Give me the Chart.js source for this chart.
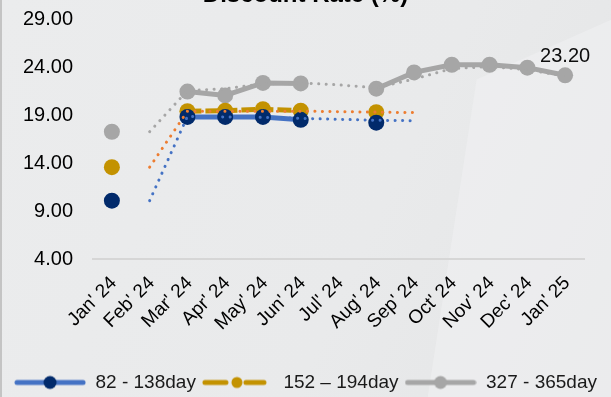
<!DOCTYPE html>
<html>
<head>
<meta charset="utf-8">
<script src="https://cdn.jsdelivr.net/npm/chart.js@4"></script>
<style>
  html, body { margin: 0; padding: 0; overflow: hidden; }
  body {
    width: 611px; height: 397px;
    background: linear-gradient(115deg, #ebeced 0%, #e9eaeb 60%, #e4e5e6 100%);
    position: relative;
  }
  #shade {
    position: absolute; left: 0; top: 0; width: 611px; height: 397px;
    background: #f1f1f2; opacity: 0.55;
    clip-path: polygon(78% 20%, 100% 5%, 100% 100%, 70% 100%);
  }
  #frame { position: absolute; left: 0; top: 0; width: 2px; height: 397px; background: #c4c4c4; }
  #wrap { position: absolute; left: 0; top: -19px; width: 611px; height: 421px; }
</style>
</head>
<body>
<div id="shade"></div>
<div id="frame"></div>
<div id="wrap"><canvas id="chart"></canvas></div>
<script>
(function () {
  // --- data ---
  const months = ["Jan' 24", "Feb' 24", "Mar' 24", "Apr' 24", "May' 24", "Jun' 24", "Jul' 24",
                  "Aug' 24", "Sep' 24", "Oct' 24", "Nov' 24", "Dec' 24", "Jan' 25"];
  const seriesNames = ['82 - 138day', '152 \u2013 194day', '327 - 365day'];

  // actual auction results (gaps where no auction)
  const shortTerm = [10.1, null, 18.85, 18.85, 18.85, 18.55, null, 18.25, null, null, null, null, null];
  const midTerm   = [13.6, null, 19.45, 19.5, 19.65, 19.5, null, 19.35, null, null, null, null, null];
  const longTerm  = [17.3, null, 21.5, 21.1, 22.4, 22.35, null, 21.8, 23.5, 24.3, 24.3, 24.0, 23.2];

  // dotted trend lines (no legend entry)
  const shortTrend = [null, 10.1, 18.9, 18.85, 18.8, 18.7, 18.6, 18.5, 18.45, null, null, null, null];
  const midTrend   = [null, 13.6, 19.45, 19.45, 19.45, 19.45, 19.4, 19.35, 19.3, null, null, null, null];
  const longTrend  = [null, 17.3, 21.6, 21.8, 22.3, 22.4, 22.2, 21.9, 22.8, 23.9, 24.1, 23.8, 23.1];

  const yTicks = [4, 9, 14, 19, 24, 29];

  const BLUE = '#4472c4', NAVY = '#012a6b', GOLD = '#c39200', ORANGE = '#ed7d31', GREY = '#a6a6a6';
  const FONT = 'Arial, "Liberation Sans", sans-serif';

  // legend icons: line with a marker in the middle, drawn on small canvases
  function legendIcon(color, markerColor, dashed) {
    const c = document.createElement('canvas');
    c.width = 72; c.height = 16;
    const g = c.getContext('2d');
    g.strokeStyle = color;
    g.lineWidth = 5;
    g.lineCap = 'round';
    g.beginPath();
    if (dashed) {
      g.moveTo(3, 8); g.lineTo(24, 8);
      g.moveTo(44, 8); g.lineTo(62, 8);
    } else {
      g.moveTo(3, 8); g.lineTo(69, 8);
    }
    g.stroke();
    g.fillStyle = markerColor;
    g.beginPath();
    g.arc(dashed ? 35 : 36, 8, dashed ? 5.5 : 6.5, 0, Math.PI * 2);
    g.fill();
    return c;
  }
  const icons = [legendIcon(BLUE, NAVY, false), legendIcon(GOLD, GOLD, true), legendIcon(GREY, GREY, false)];

  function dotted(data, color) {
    return {
      label: 'trend',
      data,
      borderColor: color,
      borderWidth: 3,
      borderDash: [0.1, 7.4],
      borderCapStyle: 'round',
      pointRadius: 0,
      pointHoverRadius: 0,
      fill: false,
      tension: 0,
      spanGaps: false
    };
  }

  function solid(name, data, lineColor, markerColor, dash) {
    return {
      label: name,
      data,
      borderColor: lineColor,
      backgroundColor: markerColor,
      borderWidth: 5,
      borderDash: dash || [],
      pointRadius: 8,
      pointBackgroundColor: markerColor,
      pointBorderWidth: 0,
      tension: 0
    };
  }

  // value label above the last point of the long series
  const lastLabel = {
    id: 'lastLabel',
    afterDatasetsDraw(chart) {
      const meta = chart.getDatasetMeta(5);
      const i = longTerm.length - 1;
      const pt = meta.data[i];
      if (!pt) return;
      const ctx = chart.ctx;
      ctx.save();
      ctx.font = '20px ' + FONT;
      ctx.fillStyle = '#0d0d0d';
      ctx.textAlign = 'center';
      ctx.textBaseline = 'alphabetic';
      ctx.fillText(longTerm[i].toFixed(2), pt.x, pt.y - 13);
      ctx.restore();
    }
  };

  const ctx = document.getElementById('chart').getContext('2d');
  new Chart(ctx, {
    type: 'line',
    data: {
      labels: months,
      datasets: [
        dotted(shortTrend, BLUE),
        dotted(midTrend, ORANGE),
        dotted(longTrend, GREY),
        solid(seriesNames[0], shortTerm, BLUE, NAVY),
        solid(seriesNames[1], midTerm, GOLD, GOLD, [14, 4]),
        solid(seriesNames[2], longTerm, GREY, GREY)
      ]
    },
    options: {
      responsive: true,
      maintainAspectRatio: false,
      animation: false,
      layout: { padding: 0 },
      plugins: {
        title: {
          display: true,
          text: 'Discount Rate (%)',
          color: '#000',
          font: { family: FONT, size: 24, weight: 'bold' },
          padding: { top: 0, bottom: 10 }
        },
        legend: {
          position: 'bottom',
          labels: {
            usePointStyle: true,
            pointStyleWidth: 72,
            boxHeight: 16,
            padding: 6,
            color: '#1a1a1a',
            font: { family: FONT, size: 19 },
            filter: (item) => item.datasetIndex >= 3,
            generateLabels(chart) {
              const items = Chart.defaults.plugins.legend.labels.generateLabels(chart);
              items.forEach(it => {
                if (it.datasetIndex >= 3) it.pointStyle = icons[it.datasetIndex - 3];
              });
              return items;
            }
          }
        },
        tooltip: { enabled: false }
      },
      scales: {
        x: {
          type: 'category',
          offset: true,
          grid: { display: false, drawTicks: false },
          border: { display: true, color: '#d6d6d6', width: 2 },
          ticks: {
            color: '#000',
            font: { family: FONT, size: 19 },
            minRotation: 45,
            maxRotation: 45,
            autoSkip: false,
            padding: 13,
            labelOffset: 2
          },
          afterFit(scale) { scale.height = 108; }
        },
        y: {
          min: 4,
          max: 29,
          afterBuildTicks(scale) { scale.ticks = yTicks.map(v => ({ value: v })); },
          grid: { display: false, drawTicks: false },
          border: { display: false },
          ticks: {
            color: '#000',
            font: { family: FONT, size: 20 },
            padding: 20,
            callback: (v) => Number(v).toFixed(2)
          },
          afterFit(scale) { scale.width = 93; }
        },
        // empty right-hand strip so the plot ends where the reference does
        yRight: {
          position: 'right',
          grid: { display: false, drawTicks: false },
          border: { display: false },
          ticks: { display: false },
          afterFit(scale) { scale.width = 27; }
        }
      }
    },
    plugins: [lastLabel]
  });
})();
</script>
</body>
</html>
